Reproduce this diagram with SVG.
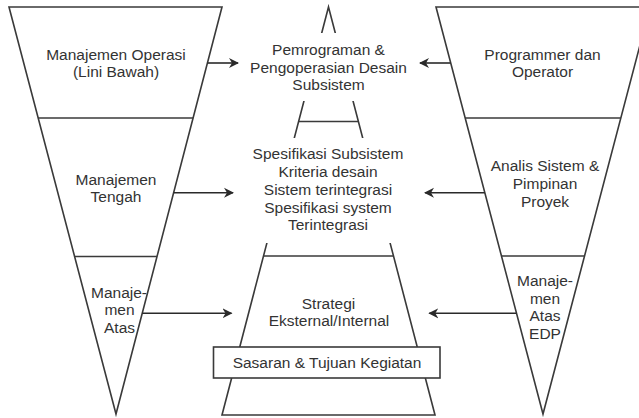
<svg xmlns="http://www.w3.org/2000/svg" width="639" height="418" viewBox="0 0 639 418">
  <style>
    .shape { fill: none; stroke: #3a3a3a; stroke-width: 1.6; stroke-linejoin: miter; }
    .bg { fill: #ffffff; stroke: none; }
    .box { fill: #ffffff; stroke: #3a3a3a; stroke-width: 1.6; }
    .lbl { font-family: "Liberation Sans", Arial, sans-serif; font-size: 15.5px; fill: #333333; text-anchor: middle; }
    .conn { stroke: #2a2a2a; stroke-width: 1.6; fill: none; marker-end: url(#head); }
  </style>
  <defs>
    <marker id="head" viewBox="0 0 10 10" refX="9" refY="5" markerWidth="10" markerHeight="11" markerUnits="userSpaceOnUse" orient="auto">
      <path d="M0,0 L10,5 L0,10 L3,5 Z" fill="#2a2a2a"/>
    </marker>
  </defs>
  <rect width="639" height="418" fill="#ffffff"/>

  <!-- left funnel: management levels -->
  <g id="left-funnel">
    <polygon class="shape" points="9,7 222,7 116,414"/>
    <line class="shape" x1="38.2" y1="118" x2="193.1" y2="118"/>
    <line class="shape" x1="74.6" y1="256.5" x2="157" y2="256.5"/>
  </g>
  <g id="manajemen-operasi">
    <text class="lbl" x="116" y="60">Manajemen Operasi</text>
    <text class="lbl" x="116" y="77">(Lini Bawah)</text>
  </g>
  <g id="manajemen-tengah">
    <text class="lbl" x="116" y="185">Manajemen</text>
    <text class="lbl" x="116" y="201.5">Tengah</text>
  </g>
  <g id="manajemen-atas">
    <text class="lbl" x="119" y="298">Manaje-</text>
    <text class="lbl" x="119.5" y="315">men</text>
    <text class="lbl" x="119.5" y="332.5">Atas</text>
  </g>

  <!-- right funnel: EDP staff levels -->
  <g id="right-funnel">
    <polygon class="shape" points="436,7 650,7 543,414"/>
    <line class="shape" x1="465.2" y1="118" x2="620.8" y2="118"/>
    <line class="shape" x1="501.6" y1="256" x2="584.4" y2="256"/>
  </g>
  <g id="programmer-operator">
    <text class="lbl" x="542.5" y="59.5">Programmer dan</text>
    <text class="lbl" x="542.5" y="76.5">Operator</text>
  </g>
  <g id="analis-sistem">
    <text class="lbl" x="545" y="171">Analis Sistem &amp;</text>
    <text class="lbl" x="545" y="189">Pimpinan</text>
    <text class="lbl" x="545" y="206.5">Proyek</text>
  </g>
  <g id="manajemen-atas-edp">
    <text class="lbl" x="545" y="286">Manaje-</text>
    <text class="lbl" x="545" y="303.5">men</text>
    <text class="lbl" x="545" y="321">Atas</text>
    <text class="lbl" x="545" y="338.5">EDP</text>
  </g>

  <!-- central pyramid: planning products -->
  <g id="pyramid">
    <polygon class="shape" points="328.5,7 435,415 222,415"/>
    <line class="shape" x1="298.7" y1="121.5" x2="358.3" y2="121.5"/>
    <line class="shape" x1="264" y1="256" x2="393" y2="256"/>
  </g>
  <g id="pemrograman">
    <rect class="bg" x="245" y="33" width="167" height="68"/>
    <text class="lbl" x="328.5" y="55">Pemrograman &amp;</text>
    <text class="lbl" x="328.5" y="72.5">Pengoperasian Desain</text>
    <text class="lbl" x="328.5" y="90">Subsistem</text>
  </g>
  <g id="spesifikasi">
    <rect class="bg" x="248" y="138" width="161" height="105"/>
    <text class="lbl" x="328" y="159.3">Spesifikasi Subsistem</text>
    <text class="lbl" x="328" y="177">Kriteria desain</text>
    <text class="lbl" x="328" y="195">Sistem terintegrasi</text>
    <text class="lbl" x="328" y="212.7">Spesifikasi system</text>
    <text class="lbl" x="328" y="230">Terintegrasi</text>
  </g>
  <g id="strategi">
    <text class="lbl" x="328.5" y="308.5">Strategi</text>
    <text class="lbl" x="329" y="326">Eksternal/Internal</text>
  </g>
  <g id="sasaran">
    <rect class="box" x="213.5" y="347" width="226.5" height="31"/>
    <text class="lbl" x="327" y="368">Sasaran &amp; Tujuan Kegiatan</text>
  </g>

  <!-- connectors -->
  <g id="connectors">
    <line class="conn" x1="207.4" y1="63" x2="238" y2="63"/>
    <line class="conn" x1="173.6" y1="192.7" x2="233" y2="192.7"/>
    <line class="conn" x1="142.2" y1="313.3" x2="231.5" y2="313.3"/>
    <line class="conn" x1="450.6" y1="63" x2="420" y2="63"/>
    <line class="conn" x1="484.8" y1="192.7" x2="425" y2="192.7"/>
    <line class="conn" x1="516.5" y1="313.3" x2="429.3" y2="313.3"/>
  </g>
</svg>
